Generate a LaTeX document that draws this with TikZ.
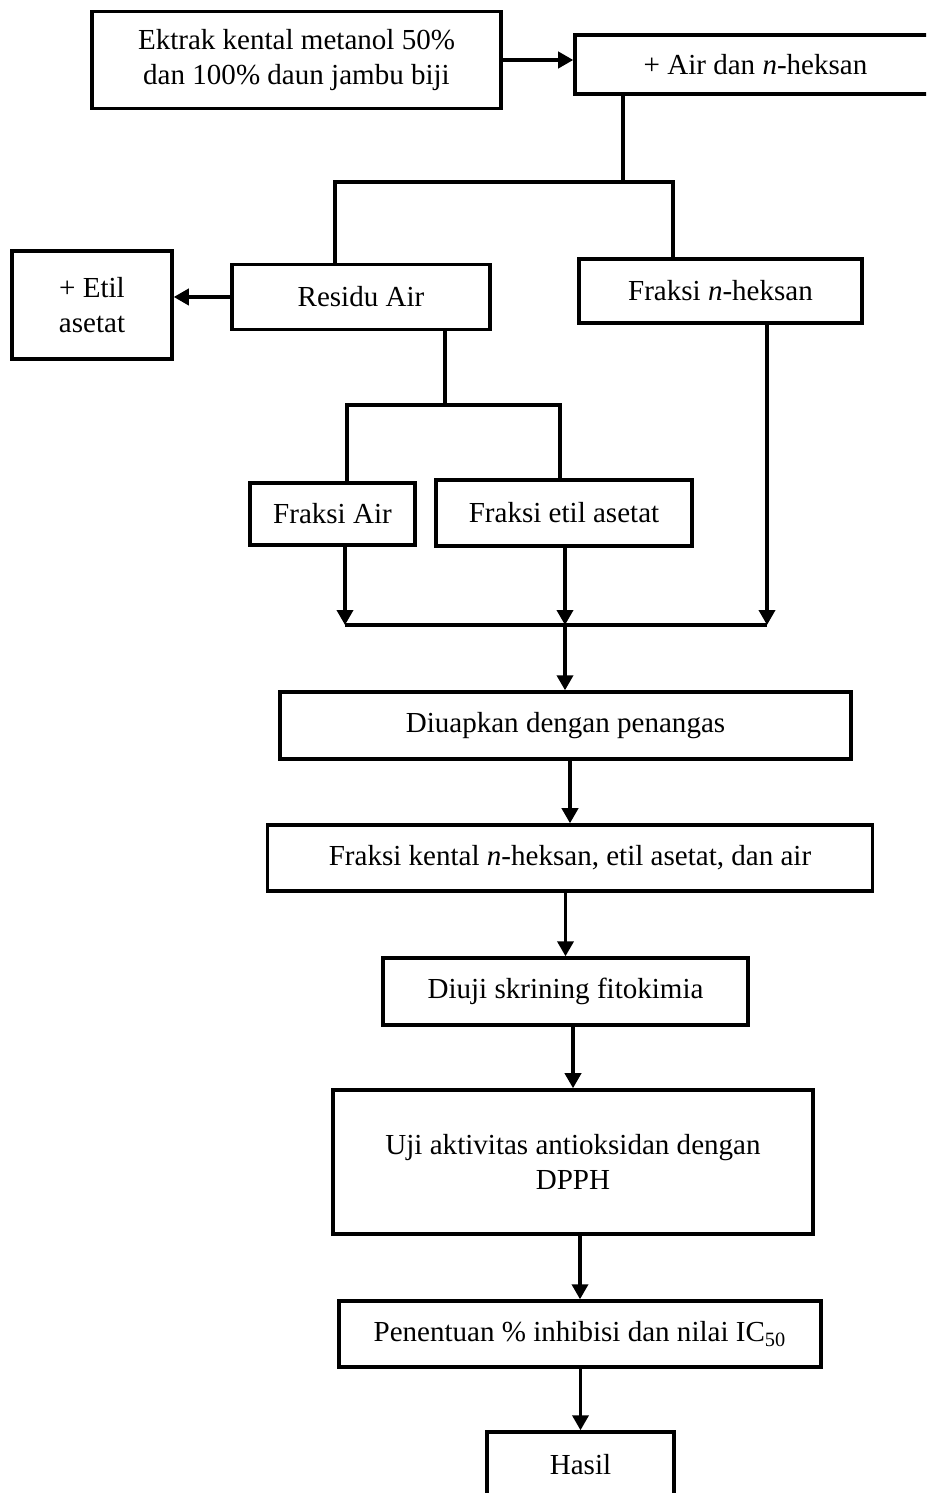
\documentclass[tikz,border=0pt]{standalone}
\usepackage{fontspec}
\setmainfont{Liberation Serif}
\usetikzlibrary{arrows.meta}

\tikzset{
  box/.style={draw, line width=1.5pt, align=center, inner sep=2pt,
    font=\fontsize{12.2}{14.7}\selectfont},
  flow/.style={line width=1.35pt},
  arr/.style={flow, -{Triangle[length=6.3pt,width=6.8pt]}},
}

\begin{document}
\begin{tikzpicture}[x=0.42pt,y=-0.42pt]
\clip (0,0) rectangle (926,1493);
\useasboundingbox (0,0) rectangle (926,1493);

% top row
\node[box, minimum width=171.8pt, minimum height=40.7pt] (ekstrak) at (296.5,60) {Ektrak kental metanol 50\%\\dan 100\% daun jambu biji};
\node[box, minimum width=151.6pt, minimum height=24.8pt] (tambah) at (755.5,64.5) {+ Air dan \textit{n}-heksan};

% first partition
\node[box, minimum width=67.2pt, minimum height=45.4pt] (etil) at (92,305) {+ Etil\\asetat};
\node[box, minimum width=108.4pt, minimum height=27.3pt] (residu) at (361,297) {Residu Air};
\node[box, minimum width=118.9pt, minimum height=26.9pt] (heksan) at (720.5,291) {Fraksi \textit{n}-heksan};

% second partition
\node[box, minimum width=69.3pt, minimum height=26.0pt] (fair) at (332.5,514) {Fraksi Air};
\node[box, minimum width=107.5pt, minimum height=27.7pt] (fetil) at (564,513) {Fraksi etil asetat};

% main column
\node[box, minimum width=239.8pt, minimum height=28.1pt] (uap) at (565.5,725.5) {Diuapkan dengan penangas};
\node[box, minimum width=254.1pt, minimum height=27.7pt] (kental) at (570,858) {Fraksi kental \textit{n}-heksan, etil asetat, dan air};
\node[box, minimum width=153.3pt, minimum height=28.1pt] (skrining) at (565.5,991.5) {Diuji skrining fitokimia};
\node[box, minimum width=201.6pt, minimum height=60.5pt] (uji) at (573,1162) {Uji aktivitas antioksidan dengan\\DPPH};
\node[box, minimum width=202.4pt, minimum height=27.7pt] (inhibisi) at (580,1334) {Penentuan \% inhibisi dan nilai IC\textsubscript{50}};
\node[box, minimum width=78.5pt, minimum height=27.7pt] (hasil) at (580.5,1465) {Hasil};

% junctions
\coordinate (split1) at (623,182);
\coordinate (split1l) at (335,182);
\coordinate (split1r) at (673,182);
\coordinate (split2) at (445,405);
\coordinate (split2l) at (347,405);
\coordinate (split2r) at (560,405);
\coordinate (merge) at (565,625);
\coordinate (mergel) at (345,625);
\coordinate (merger) at (767,625);

\draw[arr] (ekstrak.east) -- (ekstrak.east -| tambah.west);
\draw[flow] (split1 |- tambah.south) -- (split1);
\draw[flow] (split1l |- residu.north) -- (split1l) -- (split1r) -- (split1r |- heksan.north);
\draw[arr] (residu.west) -- (residu.west -| etil.east);

\draw[flow] (split2 |- residu.south) -- (split2);
\draw[flow] (split2l |- fair.north) -- (split2l) -- (split2r) -- (split2r |- fetil.north);

\draw[arr] (mergel |- fair.south) -- (mergel);
\draw[arr] (merge |- fetil.south) -- (merge);
\draw[arr] (merger |- heksan.south) -- (merger);
\draw[flow] (mergel) -- (merger);
\draw[arr] (merge) -- (merge |- uap.north);

\foreach \a/\b in {uap/kental, kental/skrining, skrining/uji, uji/inhibisi, inhibisi/hasil}
  \draw[arr] (\b.north |- \a.south) -- (\b.north);
\end{tikzpicture}
\end{document}
